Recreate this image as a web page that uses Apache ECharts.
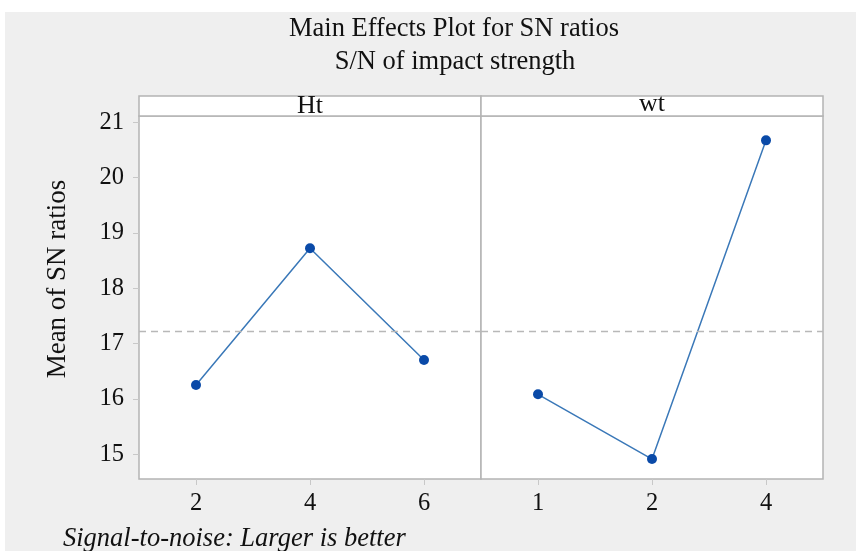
<!DOCTYPE html>
<html>
<head>
<meta charset="utf-8">
<script src="https://cdn.jsdelivr.net/npm/echarts@6/dist/echarts.min.js"></script>
<style>html,body{margin:0;padding:0;background:#fff;}#c{width:856px;height:551px;}</style>
</head>
<body>
<div id="c"></div>
<script>
const htCategories = ["2", "4", "6"];
const htValues = [16.25, 18.72, 16.70];
const wtCategories = ["1", "2", "4"];
const wtValues = [16.08, 14.91, 20.67];
const overallMean = 17.22;
const yTicks = [15, 16, 17, 18, 19, 20, 21];
const panelTitles = ["Ht", "wt"];

const FONT = '"Liberation Serif", "DejaVu Serif", serif';
const frame = '#b4b4b4';
const lineColor = '#3a78b8';
const markerColor = '#0a4aa8';

const chart = echarts.init(document.getElementById('c'), null, {renderer: 'canvas'});

function xAxisFor(idx, cats) {
  return {
    type: 'category', gridIndex: idx, data: cats, boundaryGap: true,
    axisLine: {show: false},
    axisTick: {show: true, alignWithLabel: true, length: 6, lineStyle: {color: '#c8c8c8'}},
    axisLabel: {fontFamily: FONT, fontSize: 24.5, color: '#111', margin: 12},
    splitLine: {show: false}
  };
}
function yAxisFor(idx, showLabels) {
  return {
    type: 'value', gridIndex: idx, min: 14.55, max: 21.11,
    axisLine: {show: false},
    axisTick: {show: showLabels, length: 6, lineStyle: {color: '#c8c8c8'}, customValues: yTicks},
    axisLabel: {show: showLabels, fontFamily: FONT, fontSize: 24.5, color: '#111', margin: 15, customValues: yTicks},
    splitLine: {show: false}
  };
}
function seriesFor(idx, vals) {
  return {
    type: 'line', xAxisIndex: idx, yAxisIndex: idx, data: vals,
    symbol: 'circle', symbolSize: 10,
    itemStyle: {color: markerColor},
    lineStyle: {color: lineColor, width: 1.5},
    animation: false,
    markLine: {
      silent: true, symbol: 'none', label: {show: false},
      lineStyle: {color: '#b8b8b8', type: [7, 5], width: 1.3},
      data: [{yAxis: overallMean}],
      animation: false
    }
  };
}

chart.setOption({
  backgroundColor: '#efefef',
  animation: false,
  grid: [
    {left: 139, top: 116, width: 342, height: 363, show: true, backgroundColor: '#fff', borderColor: frame, borderWidth: 1.5},
    {left: 481, top: 116, width: 342, height: 363, show: true, backgroundColor: '#fff', borderColor: frame, borderWidth: 1.5}
  ],
  xAxis: [xAxisFor(0, htCategories), xAxisFor(1, wtCategories)],
  yAxis: [yAxisFor(0, true), yAxisFor(1, false)],
  series: [seriesFor(0, htValues), seriesFor(1, wtValues)],
  graphic: [
    {type: 'rect', left: 0, top: 0, shape: {width: 856, height: 12}, style: {fill: '#fff'}, z: -1},
    {type: 'rect', left: 0, top: 0, shape: {width: 5, height: 551}, style: {fill: '#fff'}, z: -1},
    {type: 'text', x: 454, y: 29, z: 11, style: {text: 'Main Effects Plot for SN ratios', fontFamily: FONT, fontSize: 26.5, fill: '#111', align: 'center', verticalAlign: 'middle'}},
    {type: 'text', x: 455, y: 62, z: 11, style: {text: 'S/N of impact strength', fontFamily: FONT, fontSize: 26.5, fill: '#111', align: 'center', verticalAlign: 'middle'}},
    {type: 'rect', shape: {x: 139, y: 96, width: 342, height: 20}, style: {fill: '#fff', stroke: frame, lineWidth: 1.5}, z: 10},
    {type: 'rect', shape: {x: 481, y: 96, width: 342, height: 20}, style: {fill: '#fff', stroke: frame, lineWidth: 1.5}, z: 10},
    {type: 'text', x: 310, y: 106, z: 11, style: {text: panelTitles[0], fontFamily: FONT, fontSize: 26, fill: '#111', align: 'center', verticalAlign: 'middle'}},
    {type: 'text', x: 652, y: 104, z: 11, style: {text: panelTitles[1], fontFamily: FONT, fontSize: 26, fill: '#111', align: 'center', verticalAlign: 'middle'}},
    {type: 'text', x: 58, y: 279, rotation: Math.PI / 2, z: 11, style: {text: 'Mean of SN ratios', fontFamily: FONT, fontSize: 27, fill: '#111', align: 'center', verticalAlign: 'middle'}},
    {type: 'text', x: 63, y: 539, z: 11, style: {text: 'Signal-to-noise: Larger is better', fontFamily: FONT, fontSize: 26.5, fontStyle: 'italic', fill: '#111', align: 'left', verticalAlign: 'middle'}}
  ]
});
</script>
</body>
</html>
